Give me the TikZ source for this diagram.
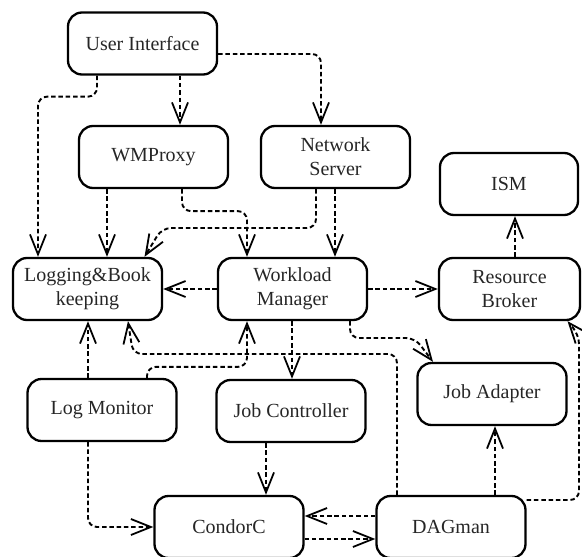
\documentclass[tikz,border=0pt]{standalone}
\usepackage{fontspec}
\setmainfont{Liberation Serif}
\usetikzlibrary{arrows.meta}
\begin{document}
\begin{tikzpicture}[x=1pt,y=-1pt,
  box/.style={draw, line width=2.3pt, rounded corners=14pt, minimum width=149pt, minimum height=62pt, align=center, inner sep=0pt, text=black!85, font=\fontsize{20}{24}\selectfont},
  conn/.style={line width=1.9pt, dash pattern=on 4.5pt off 2.8pt, rounded corners=9pt, -{Straight Barb[length=20pt,width=16pt,line width=1.8pt]}}]
\clip (0,0) rectangle (582,557);
\useasboundingbox (0,0) rectangle (582,557);
\node[box] (ui) at (142.5,43.5) {User Interface};
\node[box] (wmp) at (153.5,157) {WMProxy};
\node[box] (ns) at (335.5,157) {Network\\Server};
\node[box, minimum width=138pt] (ism) at (509,184) {ISM};
\node[box] (lb) at (87.5,289) {Logging\&Book\\keeping};
\node[box] (wm) at (292.5,289) {Workload\\Manager};
\node[box, minimum width=141pt] (rb) at (509.5,289) {Resource\\Broker};
\node[box] (ja) at (492,394) {Job Adapter};
\node[box] (lm) at (102,410) {Log Monitor};
\node[box] (jc) at (291,411) {Job Controller};
\node[box] (cc) at (229,527) {CondorC};
\node[box] (dag) at (451,527) {DAGman};
% connectors
\draw[conn] ([xshift=37.5pt]ui.south) -- ([xshift=26.5pt]wmp.north);
\draw[conn] ([yshift=-10.5pt]ui.east) -| ([xshift=-14.5pt]ns.north);
\draw[conn] ([xshift=-45.5pt]ui.south) -- ++(0,21) -| ([xshift=-49.5pt]lb.north);
\draw[conn] ([xshift=-46.5pt]wmp.south) -- ([xshift=19.5pt]lb.north);
\draw[conn] ([xshift=28.5pt]wmp.south) -- ++(0,22) -| ([xshift=-45.5pt]wm.north);
\draw[conn] ([xshift=-19.5pt]ns.south) |- (162,228) -- ([xshift=57pt]lb.north);
\draw[conn] ([xshift=-0.5pt]ns.south) -- ([xshift=42.5pt]wm.north);
\draw[conn] (wm.west) -- (lb.east);
\draw[conn] (wm.east) -- (rb.west);
\draw[conn] ([xshift=5.5pt]rb.north) -- ([xshift=6pt]ism.south);
\draw[conn] ([xshift=57.5pt]wm.south) |- (415,338) -- ([xshift=-59pt]ja.north);
\draw[conn] ([xshift=-0.5pt]wm.south) -- ([xshift=1pt]jc.north);
\draw[conn] ([xshift=-14pt]lm.north) -- ([xshift=0.5pt]lb.south);
\draw[conn] ([xshift=45pt]lm.north) -- ++(0,-11) -| ([xshift=-45.5pt]wm.south);
\draw[conn] ([xshift=-54pt]dag.north) |- (133,354) -- ([xshift=40.5pt]lb.south);
\draw[conn] ([xshift=-25pt]jc.south) -- ([xshift=37pt]cc.north);
\draw[conn] ([xshift=-14pt]lm.south) |- (cc.west);
\draw[conn] ([yshift=11pt]dag.west) -- ([yshift=11pt]cc.east);
\draw[conn] ([yshift=-12pt]cc.east) -- ([yshift=-12pt]dag.west);
\draw[conn] ([xshift=44pt]dag.north) -- ([xshift=3pt]ja.south);
\draw[conn] ([yshift=27pt]dag.east) -| (579,335) -- ([xshift=58pt]rb.south);
\end{tikzpicture}
\end{document}
